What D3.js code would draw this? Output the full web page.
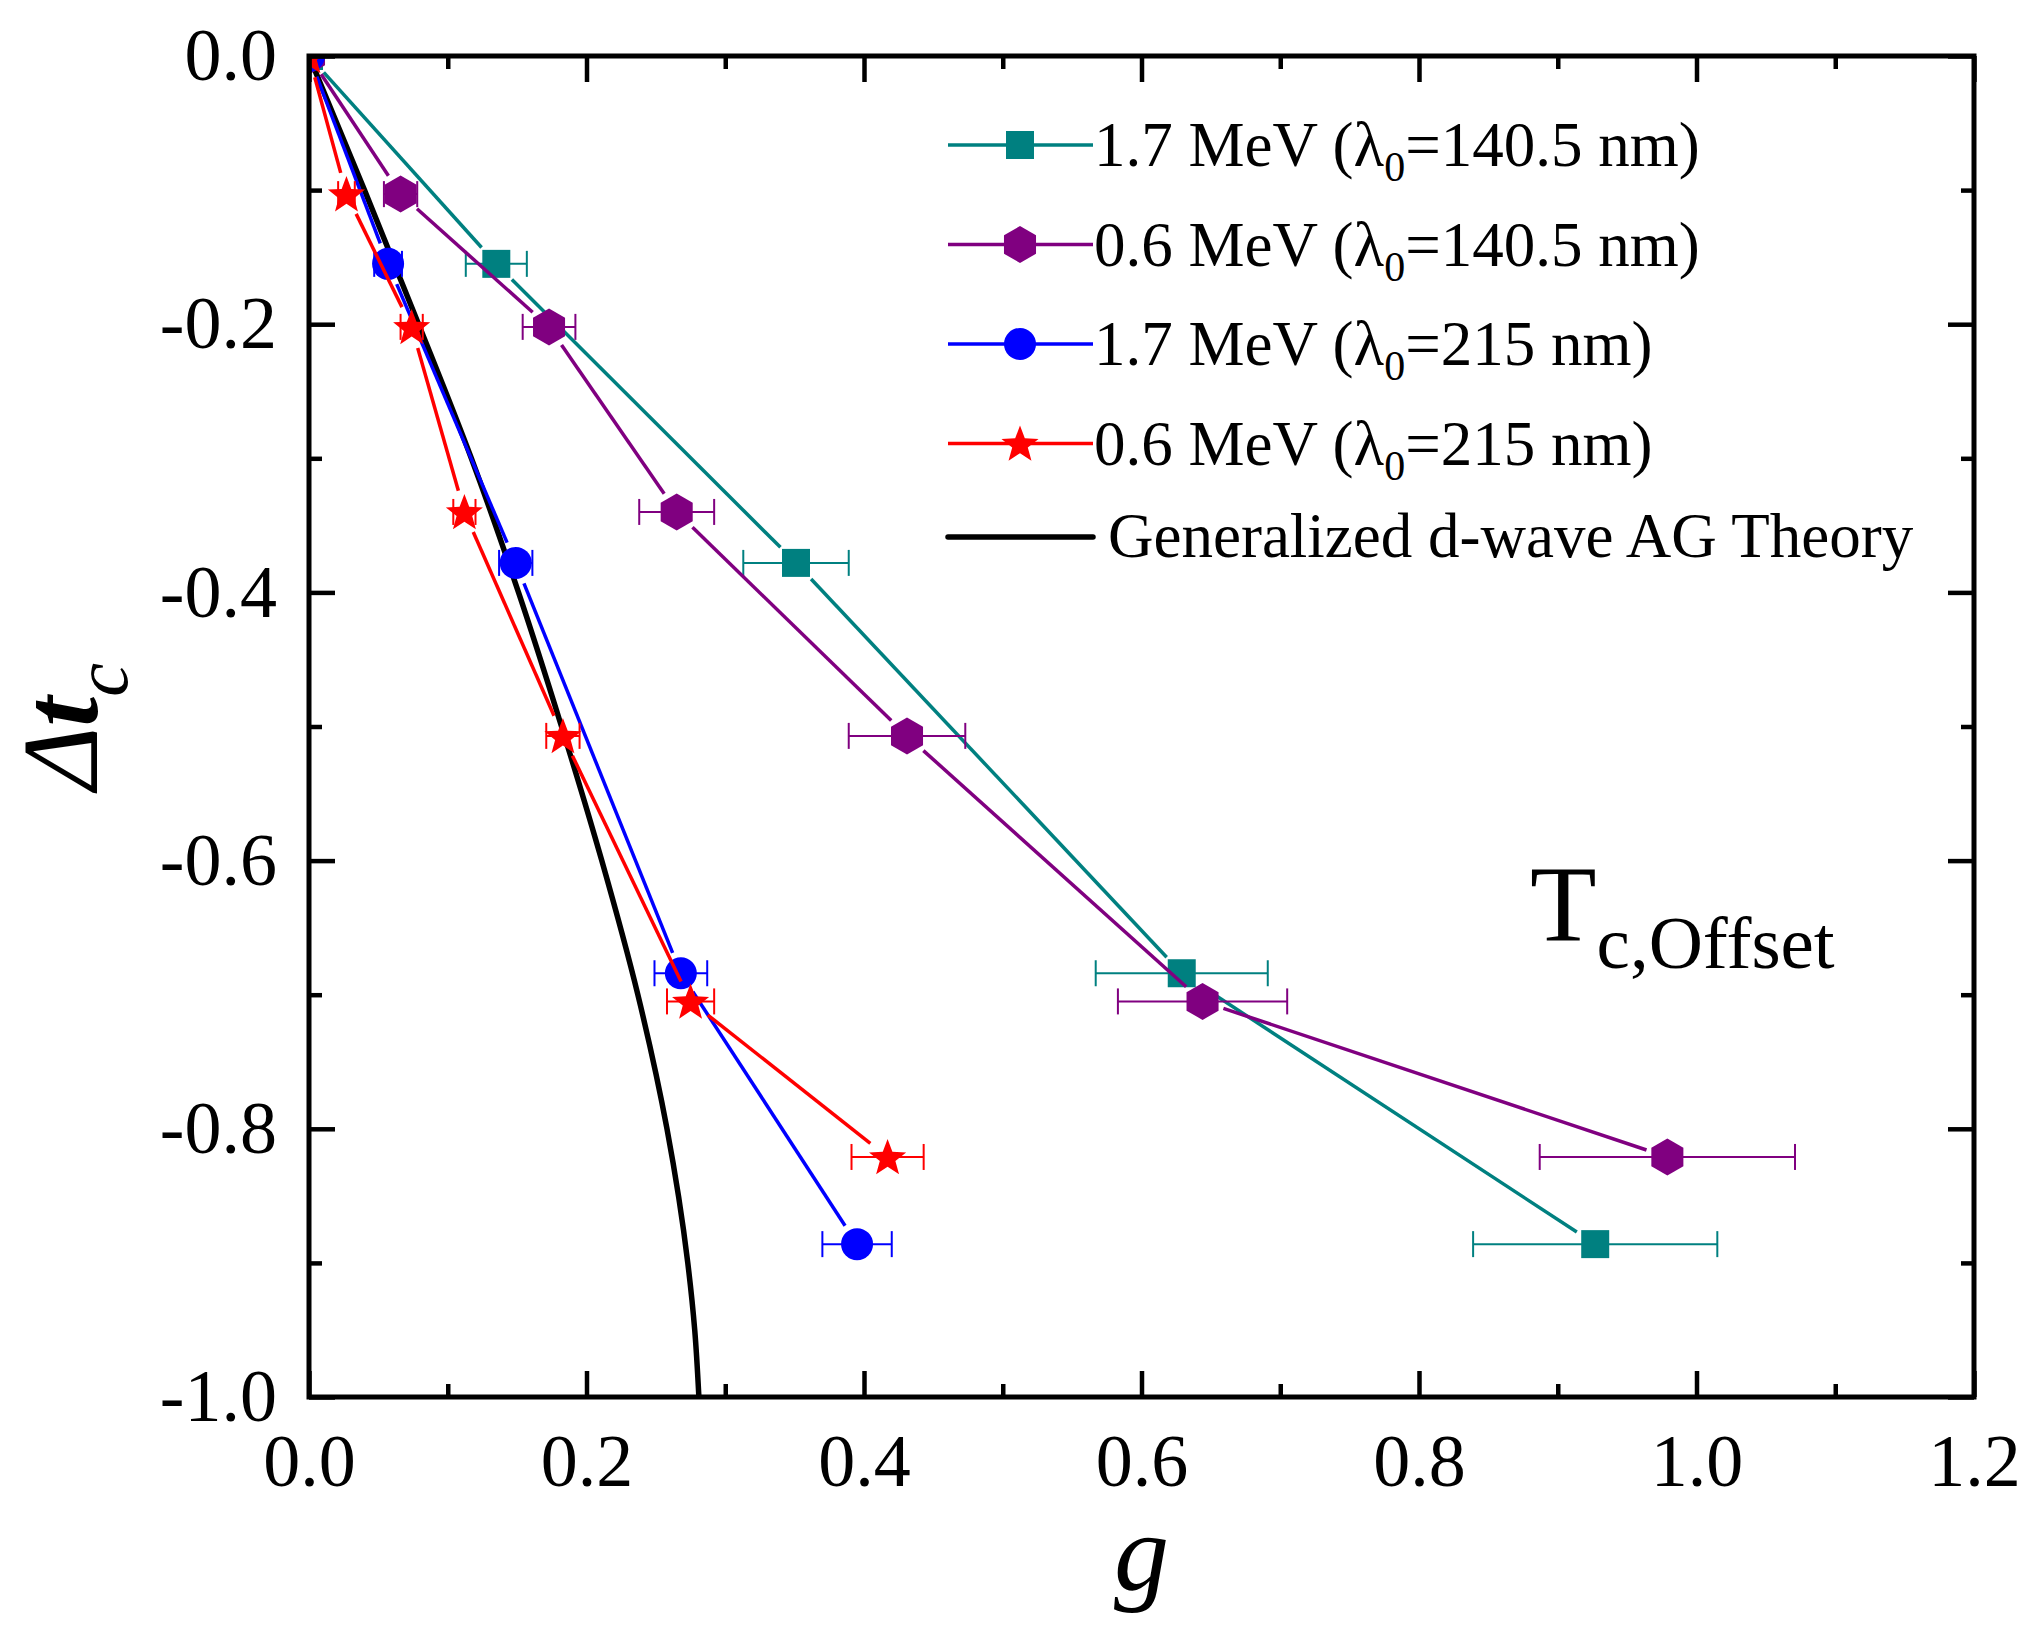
<!DOCTYPE html>
<html>
<head>
<meta charset="utf-8">
<script src="https://cdn.jsdelivr.net/npm/d3@7"></script>
<style>
  body { margin: 0; background: #fff; }
  text { font-family: "Liberation Serif", "Times New Roman", serif; fill: #000; }
</style>
</head>
<body>
<div id="chart"></div>
<script>
// data
var gTeal = [0, 0.135, 0.351, 0.629, 0.927];
var dtTeal = [0, -0.155, -0.378, -0.684, -0.886];
var errTeal = [0, 0.022, 0.038, 0.062, 0.088];

var gPurple = [0, 0.066, 0.173, 0.265, 0.431, 0.644, 0.979];
var dtPurple = [0, -0.103, -0.202, -0.340, -0.507, -0.705, -0.821];
var errPurple = [0, 0.012, 0.019, 0.027, 0.042, 0.061, 0.092];

var gBlue = [0, 0.057, 0.149, 0.268, 0.395];
var dtBlue = [0, -0.155, -0.378, -0.684, -0.886];
var errBlue = [0, 0.010, 0.012, 0.019, 0.025];

var gRed = [0, 0.027, 0.074, 0.112, 0.183, 0.275, 0.417];
var dtRed = [0, -0.103, -0.202, -0.340, -0.507, -0.705, -0.821];
var errRed = [0, 0.006, 0.008, 0.008, 0.012, 0.017, 0.026];

var theoryG = [0, 0.040, 0.079, 0.117, 0.151, 0.182, 0.211, 0.237, 0.258, 0.273, 0.278, 0.281];
var theoryDt = [0, -0.1, -0.2, -0.3, -0.4, -0.5, -0.6, -0.7, -0.8, -0.9, -0.95, -1.0];

var legendLabels = [
  ["1.7 MeV (\u03bb", "0", "=140.5 nm)"],
  ["0.6 MeV (\u03bb", "0", "=140.5 nm)"],
  ["1.7 MeV (\u03bb", "0", "=215 nm)"],
  ["0.6 MeV (\u03bb", "0", "=215 nm)"]
];
var theoryLabel = "Generalized d-wave AG Theory";

var xTicks = [0, 0.2, 0.4, 0.6, 0.8, 1.0, 1.2];
var xTickLabels = ["0.0", "0.2", "0.4", "0.6", "0.8", "1.0", "1.2"];
var xMinor = [0.1, 0.3, 0.5, 0.7, 0.9, 1.1];
var yTicks = [0, -0.2, -0.4, -0.6, -0.8, -1.0];
var yTickLabels = ["0.0", "-0.2", "-0.4", "-0.6", "-0.8", "-1.0"];
var yMinor = [-0.1, -0.3, -0.5, -0.7, -0.9];

var series = [
  { g: gTeal, dt: dtTeal, err: errTeal, color: "#008080", shape: "square" },
  { g: gPurple, dt: dtPurple, err: errPurple, color: "#800080", shape: "hexagon" },
  { g: gBlue, dt: dtBlue, err: errBlue, color: "#0000ff", shape: "circle" },
  { g: gRed, dt: dtRed, err: errRed, color: "#ff0000", shape: "star" }
];

var margin = { top: 56, right: 69, bottom: 249, left: 309 },
  width = 2043 - margin.left - margin.right,
  height = 1646 - margin.top - margin.bottom;

var svg = d3.select("#chart")
  .append("svg")
  .attr("width", 2043)
  .attr("height", 1646)
  .append("g")
  .attr("transform", "translate(" + margin.left + "," + margin.top + ")");

var x = d3.scaleLinear().domain([0, 1.2]).range([0, width]);
var y = d3.scaleLinear().domain([-1, 0]).range([height, 0]);

svg.append("clipPath").attr("id", "plot-clip")
  .append("rect").attr("width", width).attr("height", height);

function shapePath(name) {
  if (name === "square") return d3.symbol(d3.symbolSquare, 28 * 28)();
  if (name === "circle") return d3.symbol(d3.symbolCircle, Math.PI * 16 * 16)();
  var pts = [];
  if (name === "hexagon") {
    for (var i = 0; i < 6; i++) {
      var a = Math.PI / 3 * i;
      pts.push([18.5 * Math.sin(a), -18.5 * Math.cos(a)]);
    }
  } else {
    for (var j = 0; j < 10; j++) {
      var b = Math.PI / 5 * j, r = j % 2 ? 8.2 : 19.5;
      pts.push([r * Math.sin(b), -r * Math.cos(b) + 1.5]);
    }
  }
  return "M" + pts.map(function (p) { return p[0].toFixed(2) + "," + p[1].toFixed(2); }).join("L") + "Z";
}

// theory curve
var plot = svg.append("g").attr("clip-path", "url(#plot-clip)");

plot.append("path")
  .datum(theoryG.map(function (g, i) { return [g, theoryDt[i]]; }))
  .attr("fill", "none")
  .attr("stroke", "#000")
  .attr("stroke-width", 5.5)
  .attr("d", d3.line()
    .x(function (d) { return x(d[0]); })
    .y(function (d) { return y(d[1]); })
    .curve(d3.curveMonotoneY));

// series: lines with gaps at the symbols, error bars, symbols
var gap = 22;
series.forEach(function (s) {
  var pts = s.g.map(function (g, i) { return [x(g), y(s.dt[i])]; });
  for (var i = 0; i < pts.length - 1; i++) {
    var p0 = pts[i], p1 = pts[i + 1];
    var dx = p1[0] - p0[0], dy = p1[1] - p0[1], len = Math.sqrt(dx * dx + dy * dy);
    if (len <= 2 * gap) continue;
    var ux = dx / len, uy = dy / len;
    plot.append("line")
      .attr("x1", p0[0] + ux * gap).attr("y1", p0[1] + uy * gap)
      .attr("x2", p1[0] - ux * gap).attr("y2", p1[1] - uy * gap)
      .attr("stroke", s.color)
      .attr("stroke-width", 3.5);
  }

  var eb = plot.append("g").attr("stroke", s.color).attr("stroke-width", 2);
  s.g.forEach(function (g, i) {
    if (!s.err[i]) return;
    var yy = y(s.dt[i]), xl = x(g - s.err[i]), xr = x(g + s.err[i]);
    eb.append("line").attr("x1", xl).attr("x2", xr).attr("y1", yy).attr("y2", yy);
    eb.append("line").attr("x1", xl).attr("x2", xl).attr("y1", yy - 13).attr("y2", yy + 13);
    eb.append("line").attr("x1", xr).attr("x2", xr).attr("y1", yy - 13).attr("y2", yy + 13);
  });

  plot.selectAll(null)
    .data(pts)
    .enter()
    .append("path")
    .attr("d", shapePath(s.shape))
    .attr("transform", function (d) { return "translate(" + d[0] + "," + d[1] + ")"; })
    .attr("fill", s.color);
});

// axes, ticks pointing inward on all four sides
function styleAxis(g) {
  g.select(".domain").remove();
  g.selectAll(".tick line").attr("stroke", "#000").attr("stroke-width", 4.5);
  g.selectAll("text").style("font-size", "74px").attr("fill", "#000");
}

svg.append("g")
  .attr("transform", "translate(0," + height + ")")
  .call(d3.axisBottom(x).tickValues(xTicks).tickSize(-26).tickPadding(36)
    .tickFormat(function (d, i) { return xTickLabels[i]; }))
  .call(styleAxis);
svg.append("g")
  .attr("transform", "translate(0," + height + ")")
  .call(d3.axisBottom(x).tickValues(xMinor).tickSize(-13).tickFormat(""))
  .call(styleAxis);
svg.append("g")
  .call(d3.axisTop(x).tickValues(xTicks).tickSize(-26).tickFormat(""))
  .call(styleAxis);
svg.append("g")
  .call(d3.axisTop(x).tickValues(xMinor).tickSize(-13).tickFormat(""))
  .call(styleAxis);

svg.append("g")
  .call(d3.axisLeft(y).tickValues(yTicks).tickSize(-26).tickPadding(32)
    .tickFormat(function (d, i) { return yTickLabels[i]; }))
  .call(styleAxis);
svg.append("g")
  .call(d3.axisLeft(y).tickValues(yMinor).tickSize(-13).tickFormat(""))
  .call(styleAxis);
svg.append("g")
  .attr("transform", "translate(" + width + ",0)")
  .call(d3.axisRight(y).tickValues(yTicks).tickSize(-26).tickFormat(""))
  .call(styleAxis);
svg.append("g")
  .attr("transform", "translate(" + width + ",0)")
  .call(d3.axisRight(y).tickValues(yMinor).tickSize(-13).tickFormat(""))
  .call(styleAxis);

svg.append("rect")
  .attr("width", width)
  .attr("height", height)
  .attr("fill", "none")
  .attr("stroke", "#000")
  .attr("stroke-width", 5);

// axis titles
svg.append("text")
  .attr("x", width / 2)
  .attr("y", 1590 - margin.top)
  .attr("text-anchor", "middle")
  .style("font-size", "110px")
  .style("font-style", "italic")
  .text("g");

var yt = svg.append("text")
  .attr("transform", "translate(" + (97 - margin.left) + "," + (height / 2) + ") rotate(-90)")
  .attr("text-anchor", "middle")
  .style("font-size", "108px")
  .style("font-style", "italic");
yt.append("tspan").text("\u0394");
yt.append("tspan").style("font-weight", "bold").text("t");
yt.append("tspan").attr("dy", 30).style("font-size", "76px").text("c");

// annotation
var ann = svg.append("text")
  .attr("x", 1530 - margin.left)
  .attr("y", 940 - margin.top)
  .style("font-size", "109px");
ann.append("tspan").text("T");
ann.append("tspan").attr("dy", 28).style("font-size", "75px").text("c,Offset");

// legend
var legend = svg.append("g").attr("transform", "translate(" + (948 - margin.left) + "," + (145 - margin.top) + ")");
series.forEach(function (s, i) {
  var row = legend.append("g").attr("transform", "translate(0," + (i * 99.5) + ")");
  row.append("line").attr("x1", 0).attr("x2", 145).attr("y1", 0).attr("y2", 0)
    .attr("stroke", s.color).attr("stroke-width", 3.5);
  row.append("path").attr("d", shapePath(s.shape)).attr("transform", "translate(72,0)").attr("fill", s.color);
  var t = row.append("text").attr("x", 146).attr("y", 21).style("font-size", "63px");
  t.append("tspan").text(legendLabels[i][0]);
  t.append("tspan").attr("dy", 15).style("font-size", "42px").text(legendLabels[i][1]);
  t.append("tspan").attr("dy", -15).text(legendLabels[i][2]);
});
var lastRow = legend.append("g").attr("transform", "translate(0," + (537 - 145) + ")");
lastRow.append("line").attr("x1", 0).attr("x2", 145).attr("y1", 0).attr("y2", 0)
  .attr("stroke", "#000").attr("stroke-width", 5.5).attr("stroke-linecap", "round");
lastRow.append("text").attr("x", 160).attr("y", 20).style("font-size", "63px").text(theoryLabel);
</script>
</body>
</html>
